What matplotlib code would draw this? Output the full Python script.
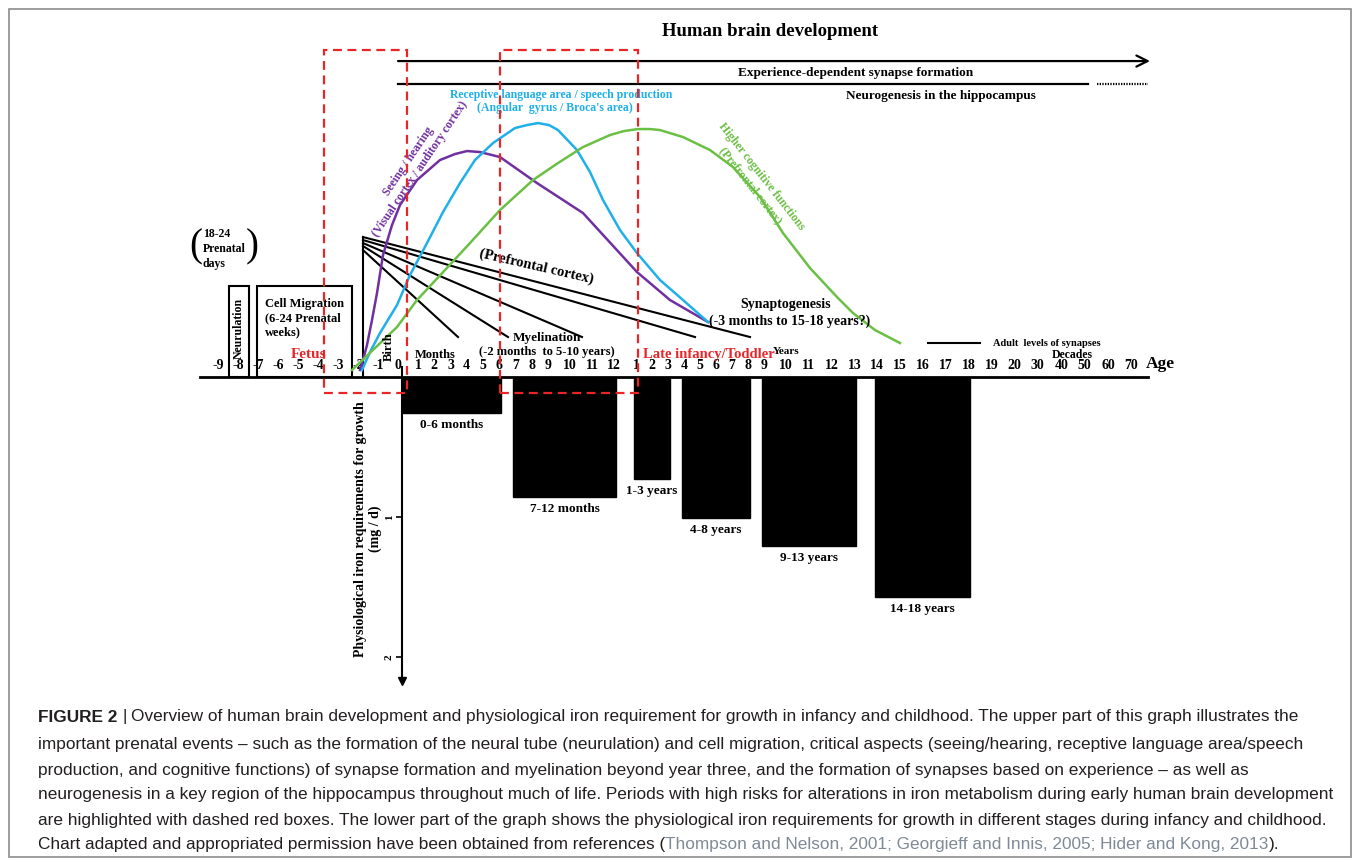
import matplotlib.pyplot as plt
from matplotlib.patches import Rectangle

plt.rcParams['font.family'] = ['Liberation Serif', 'DejaVu Serif']
plt.rcParams['font.weight'] = 'bold'

# axis ticks: prenatal months, months, years, decades
prenatal = [-9, -8, -7, -6, -5, -4, -3, -2, -1]
months = list(range(0, 13))
years = list(range(1, 21))
decades = [30, 40, 50, 60, 70]

# physiological iron requirement for growth (mg/d)
bar_labels = ["0-6 months", "7-12 months", "1-3 years", "4-8 years", "9-13 years", "14-18 years"]
bar_start = [("m", 0), ("m", 7), ("y", 1), ("y", 4), ("y", 9), ("y", 14)]
bar_end = [("m", 6), ("m", 12), ("y", 3), ("y", 8), ("y", 13), ("y", 18)]
iron = [0.26, 0.86, 0.73, 1.01, 1.21, 1.57]

# development curves (age position, relative level)
purple_x = [-1.9, -1.75, -1.55, -1.3, -1.05, -0.75, -0.3, 0.1, 0.95, 2.1, 2.85, 3.45, 4.1, 5.1, 6.95, 9.25, 11.95, 13.6, 15.5]
purple_y = [7, 17, 32, 57, 84, 122, 152, 172, 197, 217, 223, 226, 225, 220, 194, 164, 105, 77, 55]
blue_x = [-1.8, -1.4, -0.9, -0.05, 0.6, 1.45, 2.25, 3.1, 3.85, 4.75, 5.85, 6.45, 7.0, 7.55, 8.0, 8.95, 9.6, 10.25, 11.1, 11.95, 13.1, 14.25, 15.5]
blue_y = [7, 25, 44, 72, 102, 134, 165, 194, 217, 234, 249, 252, 254, 252, 247, 227, 205, 177, 147, 124, 97, 77, 55]
green_x = [-2.3, -1.15, -0.05, 0.95, 2.35, 3.6, 5.1, 6.75, 8.0, 9.25, 10.6, 11.3, 12.0, 12.6, 13.1, 14.25, 15.6, 16.75, 18.1, 19.25, 20.6, 21.95, 22.75, 23.85, 25.1]
green_y = [7, 29, 50, 77, 107, 134, 167, 197, 214, 230, 242, 246, 248, 248, 247, 240, 227, 210, 180, 144, 109, 80, 64, 47, 34]

# myelination / synaptogenesis fan line end points
fan_end_x = [17.6, 14.85, 9.2, 5.5, 3.0]
fan_start_y = [140, 137, 134, 131, 127]

RED = "#e8262a"
PURPLE = "#7030a0"
BLUE = "#1fb0ea"
GREEN = "#6cbf45"

# tick positions (uneven spacing as in the original drawing)
pos = {}
x = -10.0
for v in prenatal:
    x += 1.0
    pos[("p", v)] = x
for v in months:
    if v in (0, 1):
        x += 1.0
    else:
        x += 0.8125 if v < 10 else 1.1
    pos[("m", v)] = x
for v in years:
    if v in (1, 10):
        x += 1.1
    elif v < 10:
        x += 0.8
    elif v < 19:
        x += 1.14
    else:
        x += 1.15
    pos[("y", v)] = x
for v in decades:
    x += 1.17
    pos[("d", v)] = x
tick_pos = list(pos.values())
tick_lab = [str(k[1]) for k in pos.keys()]

fig = plt.figure(figsize=(13.55, 8.6), dpi=100)
XL = (-19.9, 47.85)

# lower part: iron requirement bars
axb = fig.add_axes([0, 0.1977, 1, 0.364])
axb.set_xlim(XL)
axb.set_ylim(2.236, 0)
axb.patch.set_visible(False)
for s in ["top", "right", "bottom"]:
    axb.spines[s].set_visible(False)
axb.spines["left"].set_position(("data", 0.2))
axb.spines["left"].set_bounds(-0.07, 2.15)
axb.spines["left"].set_linewidth(1.5)
axb.plot([0.2], [2.17], marker="v", color="black", ms=6, clip_on=False)
axb.set_xticks([])
axb.set_yticks([1, 2])
axb.set_yticklabels(["1", "2"], rotation=90, va="center", fontsize=8)
axb.tick_params(axis="y", length=4, width=1.2, pad=2)
axb.set_ylabel("Physiological iron requirements for growth\n(mg / d)", fontsize=10, fontweight="bold")
axb.yaxis.set_label_coords(0.282, 0.515)

for lab, s, e, v in zip(bar_labels, bar_start, bar_end, iron):
    left = max(pos[s] - 0.12, 0.2)
    right = pos[e] + 0.1
    axb.bar(left, v, width=right - left, align="edge", color="black", edgecolor="black")
    axb.text((left + right) / 2, v + 0.085, lab, ha="center", va="center", fontsize=9.5)

# upper part: brain development schema
ax = fig.add_axes([0, 0.5616, 1, 0.4267])
ax.set_zorder(axb.get_zorder() + 1)
ax.patch.set_visible(False)
ax.set_xlim(XL)
ax.set_ylim(0, 367)
for s in ["top", "right", "left"]:
    ax.spines[s].set_visible(False)
ax.spines["bottom"].set_bounds(-9.9, 37.5)
ax.spines["bottom"].set_linewidth(2)
ax.set_yticks([])
ax.set_xticks(tick_pos)
ax.set_xticklabels(tick_lab, fontsize=10)
ax.tick_params(axis="x", length=0, pad=-13)

# high-risk periods
for x0, x1 in [(-3.7, 0.45), (5.1, 12.0)]:
    ax.add_patch(Rectangle((x0, -16), x1 - x0, 343, fill=False, ec=RED, lw=1.6,
                           ls=(0, (4, 2.5)), clip_on=False, zorder=5))

fig.text(770 / 1355, 1 - 31 / 860, "Human brain development", ha="center", va="center", fontsize=13.5)
ax.annotate("", xy=(37.6, 316), xytext=(0, 316),
            arrowprops=dict(arrowstyle="->", lw=1.6, color="black", mutation_scale=20, shrinkA=0, shrinkB=0))
ax.text(22.9, 304, "Experience-dependent synapse formation", ha="center", va="center", fontsize=9.5)
ax.plot([0, 34.5], [293, 293], color="black", lw=1.6)
ax.plot([34.95, 37.5], [293, 293], color="black", lw=1.6, ls=(0, (0.6, 0.6)))
ax.text(27.15, 281, "Neurogenesis in the hippocampus", ha="center", va="center", fontsize=9.5)

# prenatal events
ax.add_patch(Rectangle((-8.45, 0), 1.0, 91, fill=False, ec="black", lw=1.5))
ax.text(-7.95, 49, "Neurulation", rotation=90, ha="center", va="center", fontsize=8.5)
ax.add_patch(Rectangle((-7.05, 0), 4.75, 91, fill=False, ec="black", lw=1.5))
ax.text(-6.65, 79, "Cell Migration\n(6-24 Prenatal\nweeks)", ha="left", va="top", fontsize=9, linespacing=1.25)
ax.text(-9.75, 128, "18-24\nPrenatal\ndays", ha="left", va="center", fontsize=8.5, linespacing=1.3)
ax.text(-10.1, 130, "(", ha="center", va="center", fontsize=28, fontweight="normal")
ax.text(-7.3, 130, ")", ha="center", va="center", fontsize=28, fontweight="normal")
ax.text(-4.45, 23, "Fetus", ha="center", va="center", fontsize=11, color=RED)
ax.text(-0.45, 30, "Birth", rotation=90, ha="center", va="center", fontsize=9)

# myelination / synaptogenesis fan
ax.plot([-1.75, -1.75], [0, 140], color="black", lw=1.5)
for xe, ys in zip(fan_end_x, fan_start_y):
    ax.plot([-1.75, xe], [ys, 40], color="black", lw=1.5)
ax.text(6.9, 110, "(Prefrontal cortex)", rotation=-13, ha="center", va="center", fontsize=10.5)
ax.text(7.45, 39, "Myelination", ha="center", va="center", fontsize=9.5)
ax.text(7.45, 25, "(-2 months  to 5-10 years)", ha="center", va="center", fontsize=9)
ax.text(19.4, 73, "Synaptogenesis", ha="center", va="center", fontsize=10)
ax.text(19.6, 56, "(-3 months to 15-18 years?)", ha="center", va="center", fontsize=10)

# critical-period curves
ax.plot(purple_x, purple_y, color=PURPLE, lw=1.8, solid_joinstyle="round")
ax.plot(blue_x, blue_y, color=BLUE, lw=1.8, solid_joinstyle="round")
ax.plot(green_x, green_y, color=GREEN, lw=1.8, solid_joinstyle="round")
ax.text(0.8, 212, "Seeing / hearing\n(Visual cortex / auditory cortex)", rotation=56, ha="center",
        va="center", fontsize=8.5, color=PURPLE, linespacing=1.2)
ax.text(8.15, 282, "Receptive language area / speech production", ha="center", va="center", fontsize=8.5, color=BLUE)
ax.text(7.85, 269, "(Angular  gyrus / Broca's area)", ha="center", va="center", fontsize=8.5, color=BLUE)
ax.text(17.9, 196, "Higher cognitive functions\n(Prefrontal cortex)", rotation=-52, ha="center",
        va="center", fontsize=8.5, color=GREEN, linespacing=1.2)

# axis annotations
ax.text(0.85, 22, "Months", ha="left", va="center", fontsize=9)
ax.text(15.55, 23, "Late infancy/Toddler", ha="center", va="center", fontsize=10.5, color=RED)
ax.text(19.4, 26, "Years", ha="center", va="center", fontsize=8)
ax.text(33.7, 22, "Decades", ha="center", va="center", fontsize=8.5)
ax.text(38.1, 13, "Age", ha="center", va="center", fontsize=12.5)
ax.plot([26.5, 29.1], [34, 34], color="black", lw=1.5)
ax.text(29.75, 34, "Adult  levels of synapses", ha="left", va="center", fontsize=7.5)

# frame
fig.patches.append(Rectangle((9 / 1355, 3 / 860), 1342 / 1355, 848 / 860, transform=fig.transFigure,
                             fill=False, ec="#8c8c8c", lw=1.2))

# caption
cap = dict(family=["Liberation Sans", "DejaVu Sans"], fontweight="normal", fontsize=12.45, va="center", color="#231f20")
lines = [
    "Overview of human brain development and physiological iron requirement for growth in infancy and childhood. The upper part of this graph illustrates the",
    "important prenatal events \u2013 such as the formation of the neural tube (neurulation) and cell migration, critical aspects (seeing/hearing, receptive language area/speech",
    "production, and cognitive functions) of synapse formation and myelination beyond year three, and the formation of synapses based on experience \u2013 as well as",
    "neurogenesis in a key region of the hippocampus throughout much of life. Periods with high risks for alterations in iron metabolism during early human brain development",
    "are highlighted with dashed red boxes. The lower part of the graph shows the physiological iron requirements for growth in different stages during infancy and childhood.",
]
ys = [717, 745, 770, 795, 820, 845]
rend = fig.canvas.get_renderer()
t = fig.text(38 / 1355, 1 - ys[0] / 860, "FIGURE 2", **{**cap, "fontweight": "bold"})
xb = t.get_window_extent(rend).x1
fig.text((xb + 5) / 1355, 1 - ys[0] / 860, "|", **cap)
fig.text((xb + 14) / 1355, 1 - ys[0] / 860, lines[0], **cap)
for yy, ln in zip(ys[1:5], lines[1:]):
    fig.text(38 / 1355, 1 - yy / 860, ln, **cap)

parts = [("Chart adapted and appropriated permission have been obtained from references (", "#231f20"),
         ("Thompson and Nelson, 2001; Georgieff and Innis, 2005; Hider and Kong, 2013", "#7f8a96"),
         (").", "#231f20")]
xp = 38.0
for txt, col in parts:
    t = fig.text(xp / 1355, 1 - ys[5] / 860, txt, **{**cap, "color": col})
    xp = t.get_window_extent(rend).x1

fig.savefig("out.png", dpi=100)
